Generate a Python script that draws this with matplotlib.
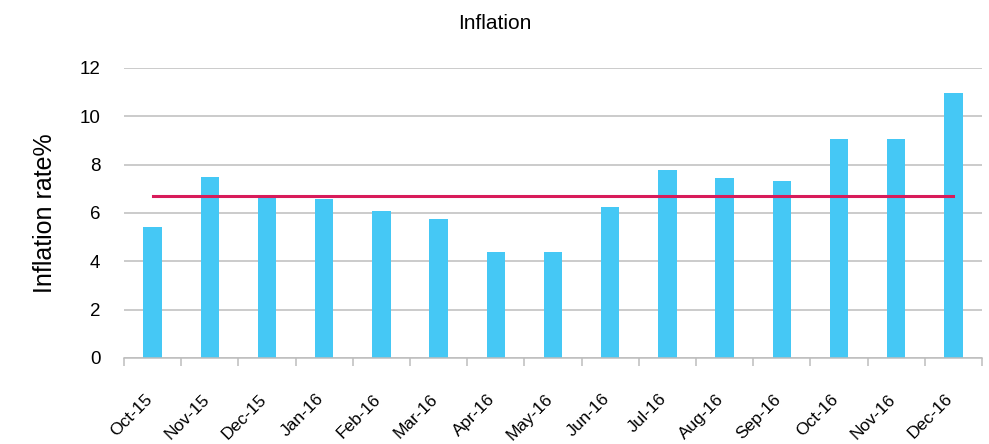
import matplotlib.pyplot as plt
import matplotlib.transforms as mtransforms
import numpy as np

plt.rcParams['font.family'] = ['Liberation Sans', 'DejaVu Sans']

# monthly inflation figures
months = ["Oct-15", "Nov-15", "Dec-15", "Jan-16", "Feb-16", "Mar-16", "Apr-16", "May-16",
          "Jun-16", "Jul-16", "Aug-16", "Sep-16", "Oct-16", "Nov-16", "Dec-16"]
inflation = [5.42, 7.5, 6.65, 6.57, 6.07, 5.74, 4.37, 4.37,
             6.24, 7.78, 7.45, 7.32, 9.07, 9.07, 10.98]
average = [6.7] * len(months)

x = np.arange(len(months))

fig = plt.figure(figsize=(9.89, 4.44), dpi=100)
ax = fig.add_axes([0.1254, 0.1937, 0.8675, 0.6533])

ax.bar(x, inflation, width=0.32, color='#45C8F5', zorder=2)
ax.plot(x, average, color='#D81B5A', linewidth=2.2, zorder=3)

ax.set_xlim(-0.5, len(months) - 0.5)
ax.set_ylim(0, 12)
ax.set_yticks(range(0, 13, 2))
ax.grid(axis='y', color='#BDBDBD', linewidth=1.1, zorder=0)

# tick marks sit on the category boundaries, labels stay centred
ax.set_xticks(np.arange(-0.5, len(months)), minor=False)
ax.set_xticklabels([])
ax.set_xticks(x, minor=True)
ax.set_xticklabels(months, minor=True, rotation=45, ha='right', va='top',
                   rotation_mode='anchor', fontsize=12.5)
ax.tick_params(axis='x', which='major', length=6, color='#BDBDBD', width=1.1)
ax.tick_params(axis='x', which='minor', length=0, pad=24)
ax.tick_params(axis='y', length=0, pad=17, labelsize=13.5)

# nudge the slanted month labels a little to the left
shift = mtransforms.ScaledTranslation(-6 / 72, 0, fig.dpi_scale_trans)
for lab in ax.get_xticklabels(minor=True):
    lab.set_transform(lab.get_transform() + shift)

for side in ['top', 'right', 'left']:
    ax.spines[side].set_visible(False)
ax.spines['bottom'].set_color('#BDBDBD')
ax.spines['bottom'].set_linewidth(1.1)

ax.set_ylabel('Inflation rate%', fontsize=18, labelpad=16)
fig.text(0.5, 0.948, 'Inflation', ha='center', va='center', fontsize=15)

fig.savefig('out.png', dpi=100)
